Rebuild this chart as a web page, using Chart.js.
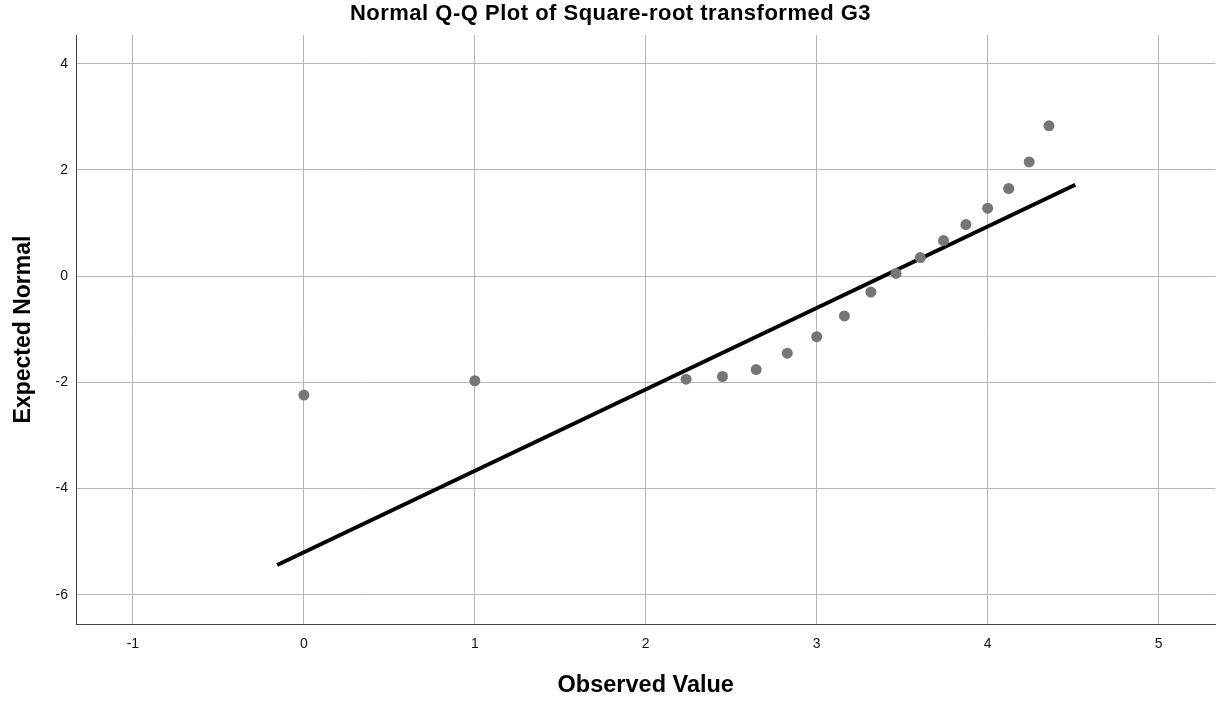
<!DOCTYPE html>
<html>
<head>
<meta charset="utf-8">
<script src="https://cdn.jsdelivr.net/npm/chart.js@4.4.0/dist/chart.umd.min.js"></script>
<style>
  html, body { margin: 0; padding: 0; background: #ffffff; }
  #wrap { width: 1221px; height: 702px; }
</style>
</head>
<body>
<div id="wrap"><canvas id="c" width="1221" height="702"></canvas></div>
<script>
// Observed values (square root of G3) and expected normal values
const observed = [0, 1, 2.236, 2.449, 2.646, 2.828, 3, 3.162, 3.317, 3.464, 3.606, 3.742, 3.873, 4, 4.123, 4.243, 4.359];
const expected = [-2.24, -1.97, -1.94, -1.89, -1.76, -1.45, -1.14, -0.75, -0.30, 0.05, 0.35, 0.67, 0.97, 1.28, 1.65, 2.15, 2.83];
// Reference line end points
const lineX = [-0.156, 4.513];
const lineY = [-5.44, 1.72];
// Tick labels
const xTicks = [-1, 0, 1, 2, 3, 4, 5];
const yTicks = [-6, -4, -2, 0, 2, 4];

const pts = observed.map((x, i) => ({ x: x, y: expected[i] }));
const linePts = lineX.map((x, i) => ({ x: x, y: lineY[i] }));

const FONT = '"Liberation Sans", Arial, Helvetica, sans-serif';

// slightly widen title letter spacing to match the reference rendering
const titleSpacing = {
  id: 'titleSpacing',
  afterLayout(chart) {
    const tb = chart.titleBlock;
    if (tb && !tb._spaced) {
      const orig = tb.draw;
      tb.draw = function () {
        const ctx = chart.ctx;
        const prev = ctx.letterSpacing;
        if ('letterSpacing' in ctx) ctx.letterSpacing = '0.5px';
        orig.apply(this, arguments);
        if ('letterSpacing' in ctx) ctx.letterSpacing = prev || '0px';
      };
      tb._spaced = true;
    }
  }
};

new Chart(document.getElementById('c'), {
  type: 'scatter',
  data: {
    datasets: [
      {
        label: 'Line',
        data: linePts,
        showLine: true,
        borderColor: '#000000',
        borderWidth: 4,
        pointRadius: 0,
        pointHoverRadius: 0,
        fill: false,
        order: 2
      },
      {
        label: 'Observed',
        data: pts,
        backgroundColor: '#767676',
        borderWidth: 0,
        pointRadius: 5.5,
        pointHoverRadius: 5.5,
        order: 1
      }
    ]
  },
  plugins: [titleSpacing],
  options: {
    responsive: false,
    animation: false,
    devicePixelRatio: 1,
    layout: { padding: { left: 0, right: 0, top: 0, bottom: 0 } },
    plugins: {
      legend: { display: false },
      tooltip: { enabled: false },
      title: {
        display: true,
        text: 'Normal Q-Q Plot of Square-root transformed G3',
        color: '#000000',
        font: { family: FONT, size: 22, weight: 'bold' },
        padding: { top: 1, bottom: 7.6 }
      }
    },
    scales: {
      x: {
        type: 'linear',
        min: -1.333,
        max: 5.333,
        afterBuildTicks: (s) => { s.ticks = xTicks.map(v => ({ value: v })); },
        afterFit: (s) => { s.height = 78; },
        grid: { color: '#b6b6b6', lineWidth: 1, drawTicks: false },
        border: { color: '#444444', width: 1 },
        ticks: {
          padding: 12,
          color: '#111111',
          font: { family: FONT, size: 14 },
          maxRotation: 0,
          callback: (v) => String(v)
        },
        title: {
          display: true,
          text: 'Observed Value',
          color: '#000000',
          font: { family: FONT, size: 23.5, weight: 'bold' },
          padding: { top: 0, bottom: 2 }
        }
      },
      y: {
        type: 'linear',
        min: -6.55,
        max: 4.54,
        afterBuildTicks: (s) => { s.ticks = yTicks.map(v => ({ value: v })); },
        afterFit: (s) => { s.width = 76; },
        grid: { color: '#b6b6b6', lineWidth: 1, drawTicks: false },
        border: { color: '#444444', width: 1 },
        ticks: {
          padding: 8,
          color: '#111111',
          font: { family: FONT, size: 14 },
          callback: (v) => String(v)
        },
        title: {
          display: true,
          text: 'Expected Normal',
          color: '#000000',
          font: { family: FONT, size: 23, weight: 'bold' },
          padding: { top: 10, bottom: 0 }
        }
      }
    }
  }
});
</script>
</body>
</html>
